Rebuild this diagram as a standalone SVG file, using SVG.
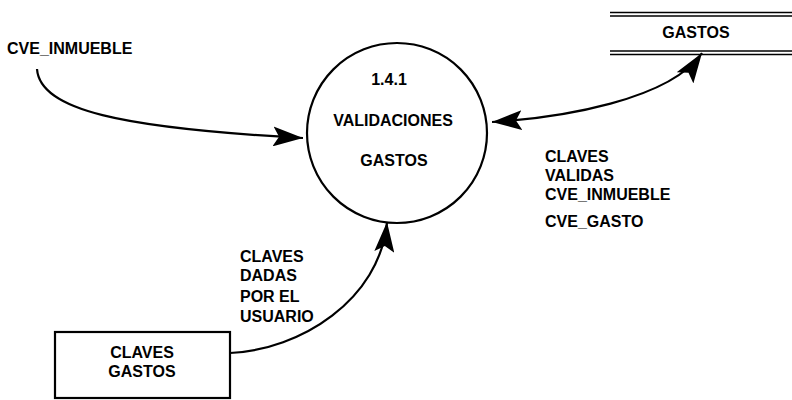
<svg xmlns="http://www.w3.org/2000/svg" width="792" height="400" viewBox="0 0 792 400">
<style>
text{font-family:"Liberation Sans",Arial,sans-serif;font-weight:bold;font-size:16px;fill:#000}
.c{text-anchor:middle}
.ln{fill:none;stroke:#000;stroke-width:2.2}
.sh{fill:#fff;stroke:#000;stroke-width:2.2}
.st{stroke:#000;stroke-width:1.6}
</style>
<defs>
<marker id="ah" viewBox="0 0 30 20" refX="30" refY="10" markerWidth="30" markerHeight="20" markerUnits="userSpaceOnUse" orient="auto-start-reverse">
<path d="M0,0 L30,10 L0,20 L6,10 Z" fill="#000"/>
</marker>
</defs>
<rect width="792" height="400" fill="#fff"/>
<g id="connectors">
<path class="ln" d="M37,69 C40,110 120,128 303,138" marker-end="url(#ah)"/>
<path class="ln" d="M492,122 C560,118 670,100 702,53" marker-start="url(#ah)" marker-end="url(#ah)"/>
<path class="ln" d="M230,353 C300,350 380,300 387,222" marker-end="url(#ah)"/>
<text x="7" y="54">CVE_INMUEBLE</text>
<text x="545" y="162">CLAVES</text>
<text x="545" y="181">VALIDAS</text>
<text x="545" y="200">CVE_INMUEBLE</text>
<text x="545" y="227">CVE_GASTO</text>
<text x="240" y="262">CLAVES</text>
<text x="240" y="281">DADAS</text>
<text x="240" y="302">POR EL</text>
<text x="240" y="322">USUARIO</text>
</g>
<g id="proc-1-4-1">
<circle class="sh" cx="397" cy="133" r="90"/>
<text class="c" x="389" y="85">1.4.1</text>
<text class="c" x="393" y="126">VALIDACIONES</text>
<text class="c" x="394" y="166">GASTOS</text>
</g>
<g id="store-gastos">
<line class="st" x1="610" y1="12.5" x2="792" y2="12.5"/>
<line class="st" x1="610" y1="16" x2="792" y2="16"/>
<line class="st" x1="610" y1="51" x2="792" y2="51"/>
<line class="st" x1="610" y1="54.5" x2="792" y2="54.5"/>
<text class="c" x="696" y="38">GASTOS</text>
</g>
<g id="ent-claves-gastos">
<rect class="sh" x="55" y="332" width="175" height="66"/>
<text class="c" x="142" y="358">CLAVES</text>
<text class="c" x="142" y="377">GASTOS</text>
</g>
</svg>
